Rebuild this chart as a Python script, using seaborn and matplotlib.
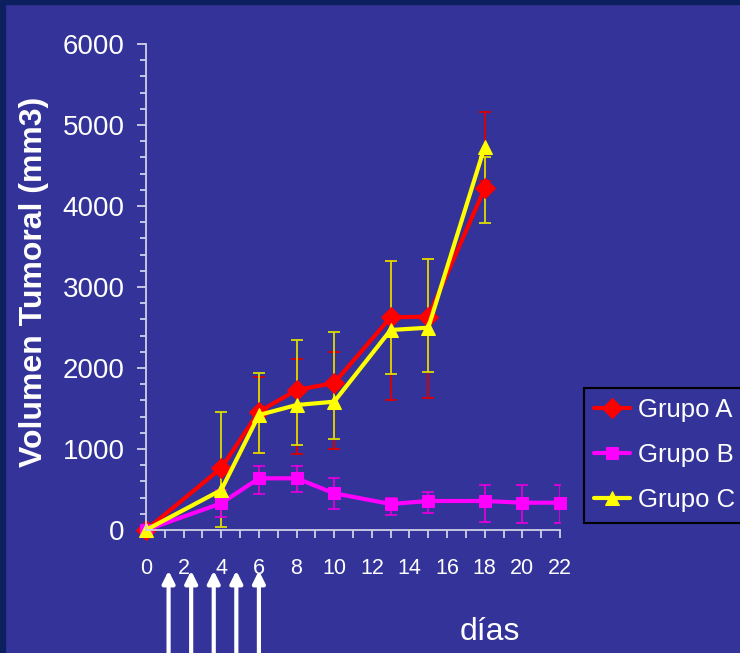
import numpy as np
import pandas as pd
import seaborn as sns
import matplotlib.pyplot as plt
from matplotlib.patches import Rectangle
from matplotlib.ticker import MultipleLocator

# datos
dias_ac = [0, 4, 6, 8, 10, 13, 15, 18]
grupo_a = [0, 765, 1460, 1728, 1815, 2626, 2634, 4218]
grupo_c = [0, 494, 1420, 1543, 1584, 2469, 2498, 4733]
dias_b = [0, 4, 6, 8, 10, 13, 15, 18, 20, 22]
grupo_b = [0, 330, 638, 638, 453, 321, 358, 358, 337, 337]

# barras de error tal como aparecen (limite inferior / superior), desde el dia 4
barra_roja_inf = [275, 950, 938, 1000, 1605, 1634, 4309]
barra_roja_sup = [713, 1885, 2111, 2193, 3325, 3346, 5157]
barra_amarilla_inf = [37, 950, 1049, 1123, 1922, 1955, 3794]
barra_amarilla_sup = [1457, 1934, 2346, 2448, 3317, 3342, 4609]
barra_b_inf = [160, 440, 465, 255, 185, 206, 103, 82, 82]
barra_b_sup = [500, 794, 794, 638, 391, 473, 556, 556, 556]

# dias de tratamiento (flechas)
flechas_dias = [1.2, 2.4, 3.6, 4.8, 6.0]

grupos = ["Grupo A", "Grupo B", "Grupo C"]

df = pd.concat([
    pd.DataFrame({"dia": dias_ac, "volumen": grupo_a, "grupo": "Grupo A"}),
    pd.DataFrame({"dia": dias_b, "volumen": grupo_b, "grupo": "Grupo B"}),
    pd.DataFrame({"dia": dias_ac, "volumen": grupo_c, "grupo": "Grupo C"}),
])

bg = "#333399"
sns.set_theme(style="ticks")
plt.rcParams["font.family"] = ["Liberation Sans", "DejaVu Sans"]

fig = plt.figure(figsize=(7.4, 6.53), dpi=100, facecolor=bg)
fig.add_artist(Rectangle((0, 0), 5 / 740, 1, transform=fig.transFigure, color="#0c1f5e", zorder=0))
fig.add_artist(Rectangle((0, 1 - 4 / 653), 1, 4 / 653, transform=fig.transFigure, color="#0c1f5e", zorder=0))
ax = fig.add_axes([146 / 740, 123 / 653, 414 / 740, 486 / 653])
ax.set_facecolor(bg)

colores = {"Grupo A": "#ff0000", "Grupo B": "#ff00ff", "Grupo C": "#ffff00"}
marcas = {"Grupo A": "D", "Grupo B": "s", "Grupo C": "^"}
tamanos = {"Grupo A": 10, "Grupo B": 8, "Grupo C": 10}

sns.lineplot(data=df, x="dia", y="volumen", hue="grupo", style="grupo",
             hue_order=grupos, style_order=grupos, palette=colores,
             markers=marcas, dashes=False, lw=3, legend=False, ax=ax)

handles = []
for line, g in zip(ax.get_lines()[:3], grupos):
    line.set_markersize(tamanos[g])
    line.set_markeredgecolor(colores[g])
    line.set_markerfacecolor(colores[g])
    line.set_clip_on(False)
    handles.append(line)


def barras(dias, inf, sup, color):
    inf = np.array(inf)
    sup = np.array(sup)
    ax.errorbar(dias, (inf + sup) / 2, yerr=(sup - inf) / 2, fmt="none",
                ecolor=color, elinewidth=1.3, capsize=4.5, capthick=1.3, zorder=1.5)


barras(dias_ac[1:], barra_roja_inf, barra_roja_sup, "#dd0000")
barras(dias_ac[1:], barra_amarilla_inf, barra_amarilla_sup, "#dddd00")
barras(dias_b[1:], barra_b_inf, barra_b_sup, "#dd00dd")

ax.set_xlim(0, 22)
ax.set_ylim(0, 6000)
ax.xaxis.set_major_locator(MultipleLocator(2))
ax.xaxis.set_minor_locator(MultipleLocator(1))
ax.yaxis.set_major_locator(MultipleLocator(1000))
ax.yaxis.set_minor_locator(MultipleLocator(200))

eje = "#d0d0e8"
sns.despine(ax=ax)
for s in ["left", "bottom"]:
    ax.spines[s].set_color(eje)
    ax.spines[s].set_linewidth(1.3)
ax.tick_params(axis="y", which="major", length=6.5, width=1.3, color=eje,
               labelcolor="white", labelsize=20, pad=9)
ax.tick_params(axis="y", which="minor", length=4.3, width=1.3, color=eje)
ax.tick_params(axis="x", which="both", length=5.5, width=1.3, color=eje,
               labelcolor="white", labelsize=15.5, pad=15)

ax.set_ylabel("Volumen Tumoral (mm3)", color="white", fontsize=23, fontweight="bold")
ax.yaxis.set_label_coords(-0.235, 0.51)
ax.set_xlabel("días", color="white", fontsize=23)
ax.xaxis.set_label_coords(0.83, -0.18)

# flechas de tratamiento
for d in flechas_dias:
    ax.annotate("", xy=(d, -0.078), xycoords=ax.get_xaxis_transform(),
                xytext=(d, -0.28), textcoords=ax.get_xaxis_transform(),
                arrowprops=dict(arrowstyle="-|>", color="white", lw=3, mutation_scale=18),
                annotation_clip=False)

leg = ax.legend(handles, grupos, loc="upper left",
                bbox_to_anchor=(584 / 740, 1 - 388 / 653), bbox_transform=fig.transFigure,
                frameon=True, fancybox=False, framealpha=1, facecolor=bg, edgecolor="black",
                fontsize=18.5, labelcolor="white", handlelength=1.4, handletextpad=0.3,
                borderpad=0.4, labelspacing=0.82, borderaxespad=0)
leg.get_frame().set_linewidth(1.5)

plt.savefig("out.png", dpi=100, facecolor=bg)
